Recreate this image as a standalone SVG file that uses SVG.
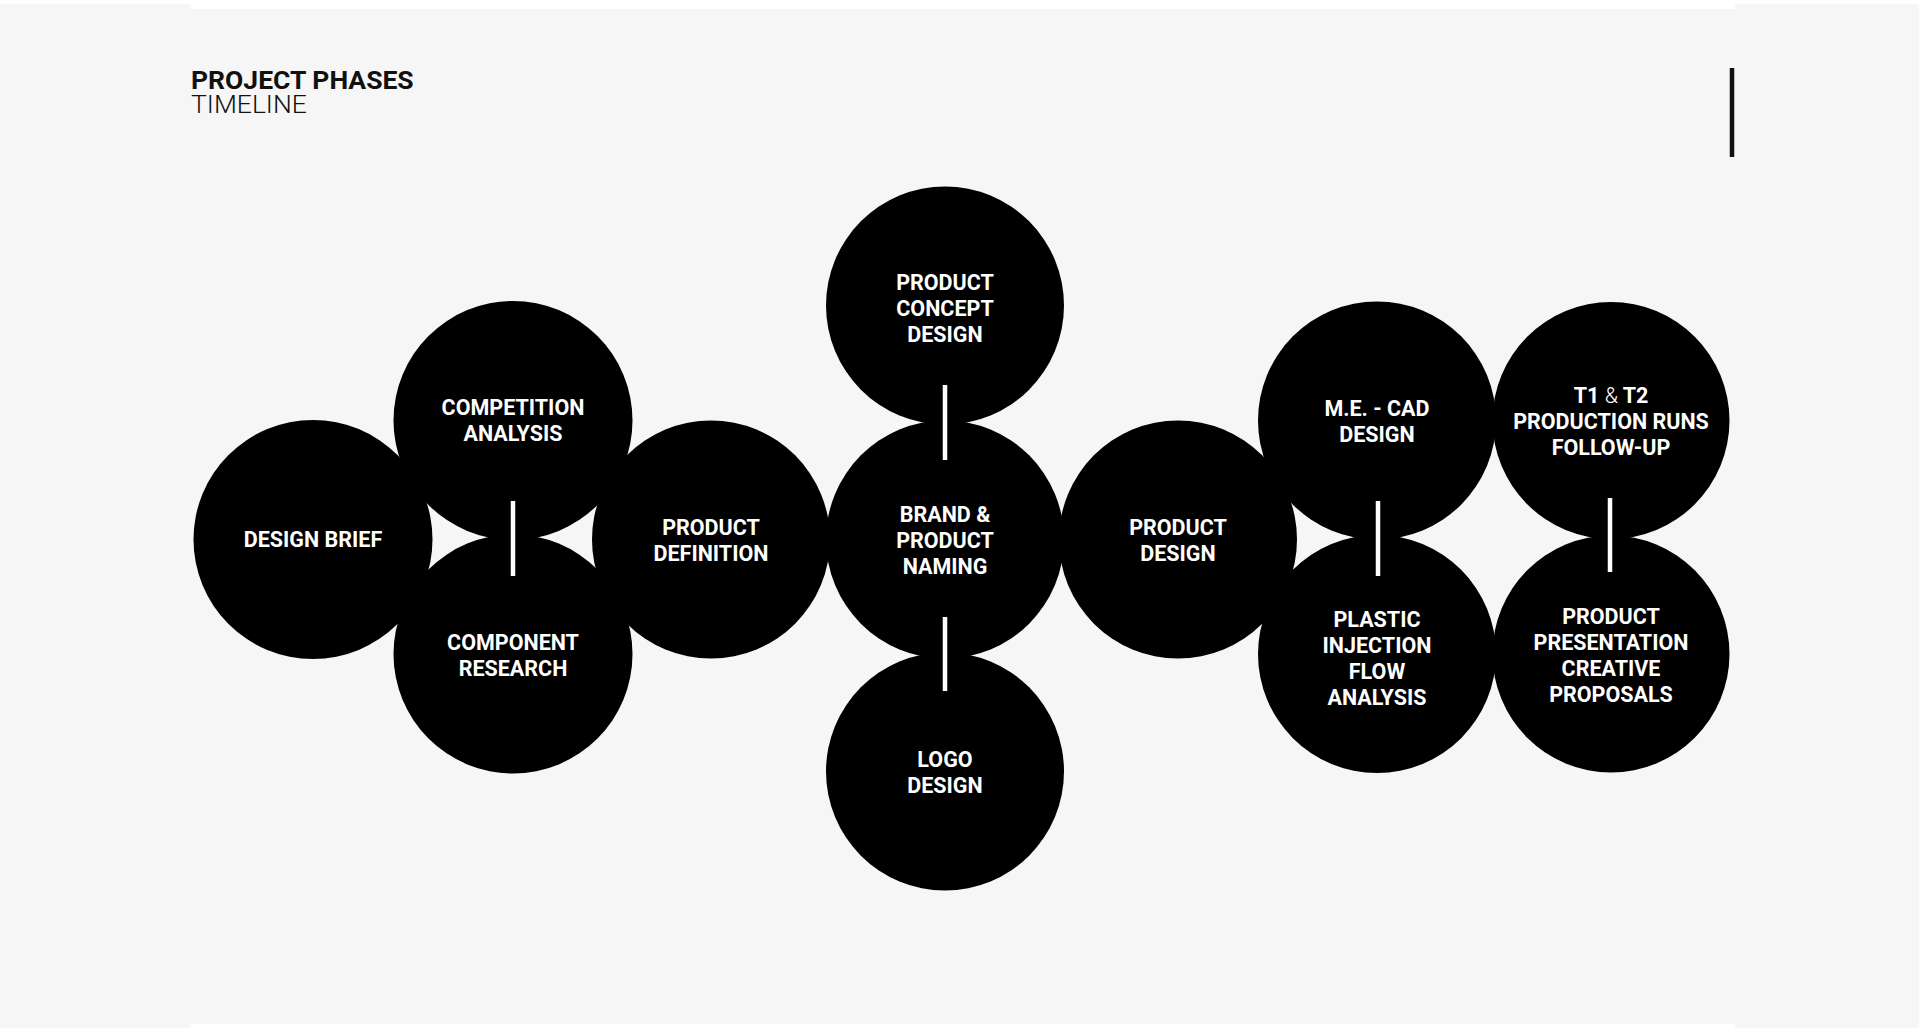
<svg xmlns="http://www.w3.org/2000/svg" width="1920" height="1029" viewBox="0 0 1920 1029">
  <style>
    .bg { fill: #f6f6f6; }
    .node circle { fill: #000; }
    .node text { fill: #fff; font-family: Roboto, "Liberation Sans", sans-serif; font-weight: 700; font-size: 21.5px; text-anchor: middle; }
    .amp { font-weight: 300; }
    .sep { stroke: #fff; stroke-width: 4.5; }
    .title { fill: #111; font-family: Roboto, "Liberation Sans", sans-serif; font-size: 26.5px; }
  </style>
  <rect width="1920" height="1029" fill="#fff"/>
  <g id="background">
    <rect class="bg" x="0" y="4" width="191" height="1024"/>
    <rect class="bg" x="191" y="9" width="1544" height="1015"/>
    <rect class="bg" x="1735" y="4" width="184" height="1024"/>
  </g>
  <g id="header">
    <text class="title" x="191" y="88.5" font-weight="700">PROJECT PHASES</text>
    <text class="title" x="191" y="113" font-weight="300">TIMELINE</text>
    <line x1="1732" y1="68" x2="1732" y2="157" stroke="#111" stroke-width="4.5"/>
  </g>
  <g id="design-brief" class="node">
    <circle cx="313" cy="539.5" r="119.5"/>
    <text x="313" y="547">DESIGN BRIEF</text>
  </g>
  <g id="competition-analysis" class="node">
    <circle cx="513" cy="420.5" r="119.5"/>
    <text x="513" y="415">COMPETITION</text>
    <text x="513" y="441">ANALYSIS</text>
  </g>
  <g id="component-research" class="node">
    <circle cx="513" cy="654" r="119.5"/>
    <text x="513" y="650">COMPONENT</text>
    <text x="513" y="676">RESEARCH</text>
  </g>
  <g id="product-definition" class="node">
    <circle cx="711" cy="539.5" r="119"/>
    <text x="711" y="535">PRODUCT</text>
    <text x="711" y="561">DEFINITION</text>
  </g>
  <g id="product-concept-design" class="node">
    <circle cx="945" cy="305.5" r="119"/>
    <text x="945" y="290">PRODUCT</text>
    <text x="945" y="316">CONCEPT</text>
    <text x="945" y="342">DESIGN</text>
  </g>
  <g id="brand-product-naming" class="node">
    <circle cx="945" cy="539.5" r="119"/>
    <text x="945" y="522">BRAND &amp;</text>
    <text x="945" y="548">PRODUCT</text>
    <text x="945" y="574">NAMING</text>
  </g>
  <g id="logo-design" class="node">
    <circle cx="945" cy="771.5" r="119"/>
    <text x="945" y="766.5">LOGO</text>
    <text x="945" y="792.5">DESIGN</text>
  </g>
  <g id="product-design" class="node">
    <circle cx="1178" cy="539.5" r="119"/>
    <text x="1178" y="535">PRODUCT</text>
    <text x="1178" y="561">DESIGN</text>
  </g>
  <g id="me-cad-design" class="node">
    <circle cx="1377" cy="420.5" r="119"/>
    <text x="1377" y="416">M.E. - CAD</text>
    <text x="1377" y="442">DESIGN</text>
  </g>
  <g id="plastic-injection-flow-analysis" class="node">
    <circle cx="1377" cy="654" r="119"/>
    <text x="1377" y="627">PLASTIC</text>
    <text x="1377" y="653">INJECTION</text>
    <text x="1377" y="679">FLOW</text>
    <text x="1377" y="705">ANALYSIS</text>
  </g>
  <g id="t1-t2-production-runs" class="node">
    <circle cx="1611" cy="420.5" r="118.5"/>
    <text x="1611" y="402.5">T1 <tspan class="amp">&amp;</tspan> T2</text>
    <text x="1611" y="428.5">PRODUCTION RUNS</text>
    <text x="1611" y="454.5">FOLLOW-UP</text>
  </g>
  <g id="product-presentation" class="node">
    <circle cx="1611" cy="654" r="118.5"/>
    <text x="1611" y="623.5">PRODUCT</text>
    <text x="1611" y="649.5">PRESENTATION</text>
    <text x="1611" y="675.5">CREATIVE</text>
    <text x="1611" y="701.5">PROPOSALS</text>
  </g>
  <g id="connectors">
    <line class="sep" x1="513" y1="501" x2="513" y2="576"/>
    <line class="sep" x1="945" y1="385" x2="945" y2="460"/>
    <line class="sep" x1="945" y1="617" x2="945" y2="691"/>
    <line class="sep" x1="1378" y1="501" x2="1378" y2="576"/>
    <line class="sep" x1="1610" y1="498" x2="1610" y2="572"/>
  </g>
</svg>
